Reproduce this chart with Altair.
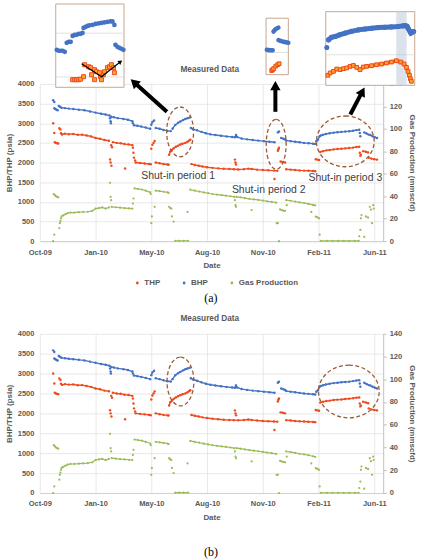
import json

import altair as alt
import pandas as pd

# ---------------------------------------------------------------- axes
START_DATE = "2009-10-14"  # day 0 of the date axis
X_END_DAY = 616
X_TICK_DAYS = [0, 100, 200, 300, 400, 500, 600]
X_TICK_LABELS = ["Oct-09", "Jan-10", "May-10", "Aug-10", "Nov-10", "Feb-11", "Jun-11"]
PSI_TICKS = [0, 500, 1000, 1500, 2000, 2500, 3000, 3500, 4000]
GAS_TICKS = [0, 20, 40, 60, 80, 100, 120, 140]

SERIES = ["THP", "BHP", "Gas Production"]
RED, BLUE, GREEN = "#EE4B1E", "#4472C4", "#9BBB59"
COLORS = [RED, BLUE, GREEN]

# ---------------------------------------------------------------- measured data
# each inner list is one run of readings: (day since START_DATE, value)
BHP_RUNS = [
    [(24, 3583)], [(26, 3540)],
    [(26, 3380), (28, 3360), (30, 3342), (32, 3330)],
    [(34, 3440), (36, 3420), (39, 3395), (45, 3385), (52, 3372), (60, 3360), (70, 3345),
     (80, 3330), (90, 3300), (100, 3270), (110, 3240), (118, 3222), (125, 3195)],
    [(126, 3125)], [(127, 3050)], [(127.5, 3000)],
    [(128, 3165), (133, 3150), (140, 3130), (150, 3110), (158, 3090), (166, 3050)],
    [(167, 3000)],
    [(169, 2950), (175, 2935), (182, 2915), (190, 2890), (198, 2860)],
    [(200, 2960), (202, 3030), (205, 3070)],
    [(208, 2880), (215, 2860), (222, 2830), (229, 2805), (235, 2800)],
    [(238, 2860), (243, 2958), (248, 3010), (252, 3042), (257, 3080), (261, 3108),
     (265, 3128), (269, 3145)],
    [(271, 2880), (275, 2850), (282, 2820), (290, 2780), (298, 2745), (306, 2718),
     (315, 2700), (325, 2682), (335, 2665), (345, 2650), (350, 2642), (352, 2700),
     (354, 2650), (362, 2610), (372, 2590), (382, 2572), (392, 2558), (402, 2545),
     (412, 2530), (421, 2517)],
    [(427, 2767), (429, 2792)],
    [(433, 2625), (437, 2605), (440, 2585)],
    [(442, 2560), (450, 2545), (458, 2530), (466, 2515), (474, 2500), (482, 2490),
     (490, 2480), (494, 2475)],
    [(496, 2542), (499, 2583), (502, 2667), (504, 2690), (508, 2705), (513, 2725),
     (520, 2745), (527, 2760), (534, 2770), (541, 2780), (548, 2788), (555, 2797),
     (562, 2810), (568, 2825), (573, 2833)],
    [(574, 2750)], [(575, 2667)],
    [(582, 2767), (586, 2740), (590, 2710)],
    [(593, 2700), (597, 2670), (601, 2645), (605, 2625)],
]

THP_RUNS = [
    [(24, 3000)], [(26, 2750)],
    [(27, 2517), (29, 2500), (31, 2490), (33, 2483)],
    [(35, 2875)], [(37, 2840)],
    [(38, 2745), (40, 2715), (45, 2735), (52, 2722), (60, 2728), (68, 2705), (76, 2710),
     (84, 2688), (92, 2665), (100, 2625), (108, 2605), (116, 2572), (124, 2555)],
    [(126, 2080)], [(127, 2000)], [(128.5, 1920)],
    [(128, 2440)], [(129.5, 2390)],
    [(131, 2520), (138, 2500), (145, 2492), (152, 2470), (159, 2462), (166, 2440)],
    [(153, 1850)],
    [(167, 2375)], [(168, 2250)], [(169, 2125)], [(171, 2050)],
    [(172, 2000), (180, 1988), (188, 1975), (196, 1962), (199, 1955)],
    [(200, 2350)], [(202, 2450)], [(204, 2500)], [(206, 2550)],
    [(208, 2000), (215, 1980), (222, 1962), (229, 1950), (231, 1945)],
    [(232, 2200), (234, 2280), (237, 2320), (240, 2360), (244, 2400), (248, 2430),
     (252, 2458), (256, 2480), (261, 2500), (265, 2530), (268, 2560), (270, 2580)],
    [(272, 1960), (278, 1940), (285, 1920), (292, 1900), (300, 1882), (310, 1865),
     (320, 1852), (330, 1840), (340, 1835), (348, 1830), (356, 1825), (366, 1832),
     (374, 1845), (380, 1835), (390, 1820), (400, 1810), (410, 1802), (420, 1795),
     (426, 1792)],
    [(350, 2075)], [(351, 2000)], [(352, 1950)],
    [(421, 1583)],
    [(427, 2300), (428, 2340), (429, 2375)],
    [(432, 2025), (436, 2015), (440, 2000)],
    [(442, 1830), (450, 1820), (458, 1810), (466, 1800), (474, 1795), (482, 1790),
     (490, 1785), (494, 1780)],
    [(495, 2083), (498, 2075), (501, 2065)],
    [(503, 2270), (508, 2290), (514, 2310), (520, 2320), (527, 2335), (534, 2345),
     (541, 2350), (548, 2360), (555, 2370), (562, 2380), (568, 2395), (573, 2400)],
    [(574, 2250)], [(575, 2175)], [(576, 2200)],
    [(580, 2290), (585, 2275), (589, 2255)],
    [(590, 2125), (595, 2100), (600, 2085), (605, 2075)],
]

GAS_RUNS = [
    [(24, 0)], [(26, 5.8)],
    [(25, 42), (27, 41), (29, 40), (31, 39.5), (33, 39)],
    [(35, 11.7)], [(36, 16)], [(37, 18)], [(38, 20.4)],
    [(39, 22), (42, 23), (46, 24), (50, 25), (55, 25.5), (62, 25.5), (70, 25.8), (78, 26),
     (86, 26.2), (94, 27), (100, 29), (106, 29.5), (112, 30), (118, 29), (124, 30)],
    [(126, 52)], [(127, 39.4)], [(128, 36.5)],
    [(129, 30.6), (136, 30.2), (144, 29.8), (152, 29.5), (160, 29.2), (166, 29)],
    [(167, 33.5)], [(168, 38)],
    [(170, 47), (176, 46.5), (183, 46), (190, 45), (198, 43.5)],
    [(199, 42)], [(200, 16)], [(201, 22)], [(206, 30.6)],
    [(208, 45), (215, 44.5), (222, 44), (229, 43.5), (231, 43)],
    [(232, 30.6), (234, 29.5), (236, 29)],
    [(237, 22)], [(240, 17.5)],
    [(243, 0.3), (250, 0.3), (258, 0.3), (266, 0.3)],
    [(265, 26)],
    [(270, 45.8), (278, 45), (286, 44.2), (294, 43.4), (302, 42.7), (310, 42), (318, 41.5),
     (326, 41), (334, 40.5), (342, 40), (349, 39.4)],
    [(350, 36.5)], [(351, 32)], [(352, 30.6)],
    [(353, 39.4), (360, 39), (368, 38.3), (376, 37.7), (384, 37.2), (392, 36.7), (400, 36.2),
     (408, 35.5), (416, 35), (424, 34.3)],
    [(380, 27.7)],
    [(425, 16)], [(427, 16)], [(429, 0)],
    [(431, 28.3), (434, 27.7), (437, 27.2), (440, 27)],
    [(443, 32)],
    [(442, 36.5), (450, 36), (458, 35.3), (466, 34.5), (474, 34), (482, 33.2), (490, 32.3),
     (494, 31.8)],
    [(487, 26)],
    [(495, 21.9), (498, 21.2), (501, 20.4)],
    [(502, 5.8)],
    [(504, 0.2), (515, 0.2), (525, 0.2), (535, 0.2), (545, 0.2), (555, 0.2), (565, 0.2),
     (572, 0.2)],
    [(573, 4.4)], [(575, 10)], [(576, 20.4)], [(577, 23.3)], [(582, 3.8)],
    [(585, 22), (589, 21)], [(592, 30.6)], [(594, 28)], [(596, 16)], [(598, 32)], [(599, 29)],
]

# ---------------------------------------------------------------- magnified views (panel a)
# view window: (first day, last day), (low psi, high psi), pixel ranges inside the plot
ZOOM1 = {"days": (230.3, 276.4), "psi": (2382, 3333), "xr": (16, 84.6), "yr": (3.4, -80.3)}
ZOOM2 = {"days": (420, 438), "psi": (2247, 2891), "xr": (227.3, 249.7), "yr": (-9.3, -66)}
ZOOM3 = {"days": (503.1, 580.2), "psi": (2151, 2992), "xr": (287.3, 376.7), "yr": (1.4, -72.6)}
ZOOM_GRID = [2500, 3000]

ZOOM1_BHP = [
    (231, 2810), (232.3, 2799), (233.7, 2799), (235, 2799), (236.4, 2787),
    (237.7, 2890), (239, 2901), (240.4, 2901),
    (241.7, 2969), (243.1, 2981), (244.4, 2981), (245.8, 2992), (247.1, 2992), (248.4, 3003),
    (249.1, 3060), (250.5, 3072), (251.8, 3083), (253.1, 3089), (255.2, 3094), (257.2, 3106),
    (259.2, 3111), (261.2, 3117), (263.2, 3123), (265.2, 3128), (267.2, 3134), (268.6, 3134),
    (269.9, 3094),
    (270.6, 2867), (271.9, 2844), (273.3, 2833), (274.6, 2822), (276, 2810),
]
ZOOM1_THP = [
    (241.7, 2469), (243.1, 2469), (244.4, 2469), (245.8, 2469), (247.1, 2475), (249.1, 2503),
    (249.8, 2640), (252.5, 2617), (253.8, 2606), (254.5, 2526), (256.5, 2583), (256.5, 2469),
    (257.8, 2560), (259.9, 2549), (260.5, 2503), (261.2, 2469), (262.5, 2526), (263.2, 2560),
    (265.2, 2606), (266.6, 2617), (267.9, 2640), (269.3, 2606), (269.9, 2549),
]
ZOOM1_TREND = [(247.8, 2651), (261.2, 2503), (274, 2674)]

ZOOM2_BHP_RUNS = [
    [(420.6, 2531), (423, 2525), (425.4, 2525)],
    [(426, 2739), (427.8, 2767), (430, 2784)],
    [(430, 2641), (431.8, 2632), (434.2, 2622), (438, 2611)],
]
ZOOM2_THP = [(424.6, 2294), (425.4, 2305), (426.2, 2316), (427.8, 2344), (429.4, 2361),
             (430.6, 2372)]

ZOOM3_BHP = [
    (505.5, 2670), (508, 2699), (511.2, 2708), (515, 2727), (519.9, 2747), (525.3, 2767),
    (531.3, 2784), (537.1, 2795), (542.8, 2803), (548.6, 2810), (554.3, 2815), (559.8, 2818),
    (565.8, 2822), (570.1, 2830), (572.1, 2833), (573.6, 2824), (574.4, 2803), (575.7, 2773),
    (576.8, 2747), (577.9, 2756), (579.2, 2765),
]
ZOOM3_BHP_FIRST = [(504, 2583)]
ZOOM3_THP = [
    (504.9, 2265), (506.9, 2292), (509.8, 2310), (512.6, 2337), (515.6, 2330), (518.4, 2341),
    (521.2, 2349), (524.2, 2367), (527, 2378), (529.9, 2356), (532.8, 2330), (535.6, 2360),
    (538.5, 2367), (542.8, 2375), (547.1, 2386), (551.4, 2394), (555.7, 2406), (560, 2417),
    (564.3, 2432), (568.1, 2417), (571, 2394), (573, 2356), (574.4, 2310), (575.6, 2265),
    (576.4, 2227), (577.3, 2197),
]
ZOOM3_BAND = (564.3, 572.9)

# ---------------------------------------------------------------- annotations
# dashed ellipses: centre (day, psi) and size in pixels
ELLIPSES_A = [(251.7, 2780, 27, 50), (424, 2463, 20, 50), (548, 2539, 58, 51)]
ELLIPSES_B = [(252.3, 2800, 27, 49), (554.4, 2550, 61, 53)]
SHUT_IN_LABELS = [("Shut-in period 1", 182, 1653), ("Shut-in period 2", 344.6, 1299),
                  ("Shut-in period 3", 482, 1603)]
# pointer arrows: tail (day, psi), head (day, psi), heading in degrees
ARROWS = [(228, 3291, 169, 4041, 312), (422.6, 3291, 422.6, 3957, 0),
          (557, 3223, 578.7, 3810, 28)]

FONT = "Liberation Sans"
GREY = "#595959"
BROWN = "#9A5B36"
FRAME = "#C8A58C"


def runs_frame(name, runs):
    rows = []
    for i, run in enumerate(runs):
        for day, val in run:
            rows.append({"series": name, "run": f"{name}-{i}", "day": day, "value": val})
    return pd.DataFrame(rows)


def points_frame(pts):
    return pd.DataFrame(pts, columns=["day", "value"])


pressure_df = pd.concat([runs_frame("THP", THP_RUNS), runs_frame("BHP", BHP_RUNS)])
gas_df = runs_frame("Gas Production", GAS_RUNS)

X_SCALE = alt.Scale(domain=[0, X_END_DAY], nice=False, zero=False)
PSI_SCALE = alt.Scale(domain=[0, 4000], nice=False, zero=False)
GAS_SCALE = alt.Scale(domain=[0, 140], nice=False, zero=False)

LABEL_EXPR = f"{json.dumps(X_TICK_LABELS)}[indexof({json.dumps(X_TICK_DAYS)}, datum.value)]"


def ellipse_path(w, h):
    a, k = w / h, 0.5523
    return (f"M0,-1 C{a*k:.4f},-1 {a:.4f},{-k} {a:.4f},0 "
            f"C{a:.4f},{k} {a*k:.4f},1 0,1 "
            f"C{-a*k:.4f},1 {-a:.4f},{k} {-a:.4f},0 "
            f"C{-a:.4f},{-k} {-a*k:.4f},-1 0,-1 Z")


def xq(field="day", scale=X_SCALE):
    return alt.X(f"{field}:Q", scale=scale, axis=None)


def yq(field="value", scale=PSI_SCALE):
    return alt.Y(f"{field}:Q", scale=scale, axis=None)


def text_layer(label, day, psi, **style):
    df = pd.DataFrame({"day": [day], "value": [psi], "label": [label]})
    return alt.Chart(df).mark_text(**style).encode(x=xq(), y=yq(), text="label:N")


def zoom_layers(view, blue_runs, blue_pts, red_pts, blue_size, red_size, blue_width, red_width):
    xs = alt.Scale(domain=list(view["days"]), range=list(view["xr"]), nice=False, zero=False)
    ys = alt.Scale(domain=list(view["psi"]), range=list(view["yr"]), nice=False, zero=False)
    d0, d1 = view["days"]
    p0, p1 = view["psi"]
    layers = []
    frame = pd.DataFrame({"d0": [d0], "d1": [d1], "p0": [p0], "p1": [p1]})
    layers.append(alt.Chart(frame).mark_rect(fill="white", stroke=FRAME, strokeWidth=1).encode(
        x=xq("d0", xs), x2="d1:Q", y=yq("p0", ys), y2="p1:Q"))
    grid = pd.DataFrame({"d0": d0, "d1": d1, "value": [g for g in ZOOM_GRID if p0 < g < p1]})
    layers.append(alt.Chart(grid).mark_rule(color="#D9D9D9", strokeWidth=0.8).encode(
        x=xq("d0", xs), x2="d1:Q", y=yq("value", ys)))
    if blue_runs:
        bl = runs_frame("BHP", blue_runs)
        layers.append(alt.Chart(bl).mark_line(color=BLUE, strokeWidth=blue_width, strokeCap="round")
                      .encode(x=xq("day", xs), y=yq("value", ys), detail="run:N"))
    if blue_pts:
        layers.append(alt.Chart(points_frame(blue_pts)).mark_circle(color=BLUE, size=blue_size, opacity=1)
                      .encode(x=xq("day", xs), y=yq("value", ys)))
    if red_width:
        layers.append(alt.Chart(points_frame(red_pts)).mark_line(color=RED, strokeWidth=red_width)
                      .encode(x=xq("day", xs), y=yq("value", ys)))
    layers.append(alt.Chart(points_frame(red_pts)).mark_square(
        size=red_size, fill="#FFA22B", stroke=RED, strokeWidth=1, opacity=1)
        .encode(x=xq("day", xs), y=yq("value", ys)))
    return layers, xs, ys


def panel(height, legend_y, legend_size, ellipses, caption, caption_psi, title_psi, magnified):
    legend = alt.Legend(orient="none", legendX=94, legendY=legend_y, direction="horizontal",
                        title=None, symbolType="circle", symbolSize=legend_size,
                        symbolStrokeWidth=0, labelFont=FONT, labelFontSize=8,
                        labelFontWeight="bold", labelColor=GREY, columnPadding=20,
                        labelOffset=3)
    color = alt.Color("series:N", scale=alt.Scale(domain=SERIES, range=COLORS), legend=legend)
    color_nl = alt.Color("series:N", scale=alt.Scale(domain=SERIES, range=COLORS), legend=None)

    x_axis = alt.Axis(values=X_TICK_DAYS, labelExpr=LABEL_EXPR, title="Date", grid=True,
                      gridColor="#E2E2E2", gridWidth=0.8, domainColor="#D0D0D0", ticks=False,
                      labelPadding=7, titlePadding=6, labelFlush=False, labelOverlap=False)
    y_axis = alt.Axis(values=PSI_TICKS, format="d", title="BHP/THP (psia)", grid=True,
                      gridColor="#E2E2E2", gridWidth=0.8, domain=False, ticks=False,
                      labelPadding=6, titlePadding=3.5)
    gas_axis = alt.Axis(orient="right", values=GAS_TICKS, format="d",
                        title="Gas Production (mmscfd)", grid=False, domainColor="#BFBFBF",
                        tickColor="#BFBFBF", tickSize=3, labelPadding=3, titlePadding=6)

    layers = [
        alt.Chart(pressure_df).mark_circle(size=6, opacity=1).encode(
            x=alt.X("day:Q", scale=X_SCALE, axis=x_axis),
            y=alt.Y("value:Q", scale=PSI_SCALE, axis=y_axis), color=color),
        alt.Chart(pressure_df).mark_line(strokeWidth=1.4).encode(
            x=xq(), y=yq(), color=color_nl, detail="run:N"),
        alt.Chart(gas_df).mark_circle(size=5, opacity=1).encode(
            x=xq(), y=alt.Y("value:Q", scale=GAS_SCALE, axis=gas_axis), color=color),
        alt.Chart(gas_df).mark_line(strokeWidth=1.2).encode(
            x=xq(), y=yq(scale=GAS_SCALE), color=color_nl, detail="run:N"),
        text_layer("Measured Data", 305, title_psi, font=FONT, fontSize=8.3, fontWeight="bold",
                   color=GREY),
    ]
    for day, psi, w, h in ellipses:
        df = pd.DataFrame({"day": [day], "value": [psi]})
        layers.append(alt.Chart(df).mark_point(
            shape=ellipse_path(w, h), size=h * h, filled=False, stroke=BROWN, strokeWidth=1.3,
            strokeDash=[4, 2.5], opacity=1).encode(x=xq(), y=yq()))

    if magnified:
        for label, day, psi in SHUT_IN_LABELS:
            layers.append(text_layer(label, day, psi, font=FONT, fontSize=10.5, align="left",
                                     baseline="middle", color="#404040"))
        z1, xs1, ys1 = zoom_layers(ZOOM1, None, ZOOM1_BHP, ZOOM1_THP, 22, 16, 0, 0)
        trend = points_frame(ZOOM1_TREND)
        z1.append(alt.Chart(trend).mark_line(color="black", strokeWidth=1.2).encode(
            x=xq("day", xs1), y=yq("value", ys1)))
        z1.append(alt.Chart(trend.tail(1)).mark_point(
            shape="triangle-up", filled=True, size=24, angle=52, color="black", opacity=1)
            .encode(x=xq("day", xs1), y=yq("value", ys1)))
        z2, _, _ = zoom_layers(ZOOM2, ZOOM2_BHP_RUNS, None, ZOOM2_THP, 0, 14, 4.5, 0)
        z3, xs3, ys3 = zoom_layers(ZOOM3, [ZOOM3_BHP], ZOOM3_BHP + ZOOM3_BHP_FIRST, ZOOM3_THP,
                                   26, 14, 5, 3.5)
        band = pd.DataFrame({"d0": [ZOOM3_BAND[0]], "d1": [ZOOM3_BAND[1]],
                             "p0": [ZOOM3["psi"][0]], "p1": [ZOOM3["psi"][1]]})
        z3.insert(2, alt.Chart(band).mark_rect(fill="#AFC1D4", opacity=0.45, stroke="#C9D3DE",
                                               strokeWidth=1).encode(
            x=xq("d0", xs3), x2="d1:Q", y=yq("p0", ys3), y2="p1:Q"))
        layers += z1 + z2 + z3

        arrows = pd.DataFrame(ARROWS, columns=["day", "value", "day2", "value2", "heading"])
        layers.append(alt.Chart(arrows).mark_rule(color="black", strokeWidth=4).encode(
            x=xq(), x2="day2:Q", y=yq(), y2="value2:Q"))
        layers.append(alt.Chart(arrows).mark_point(
            shape="triangle-up", filled=True, size=110, color="black", opacity=1).encode(
            x=xq("day2"), y=yq("value2"), angle=alt.Angle("heading:Q", scale=None)))

    layers.append(text_layer(caption, 307, caption_psi, font="Liberation Serif", fontSize=12,
                             color="black"))
    return alt.layer(*layers).resolve_scale(x="independent", y="independent").properties(
        width=345, height=height)


top = panel(158, 196, 8, ELLIPSES_A, "(a)", -1436, 4362, True)
bottom = panel(160, 194, 14, ELLIPSES_B, "(b)", -1475, 4375, False)

chart = alt.vconcat(top, bottom, spacing=10).properties(
    padding={"left": 5, "top": 2, "right": 0, "bottom": 0}, background="white"
).configure_view(stroke=None).configure_axis(
    labelFont=FONT, labelFontSize=7.5, labelFontWeight="bold", labelColor=GREY,
    titleFont=FONT, titleFontSize=8, titleFontWeight="bold", titleColor=GREY)

chart.save("out.html", embed_options={"renderer": "svg", "actions": False})
